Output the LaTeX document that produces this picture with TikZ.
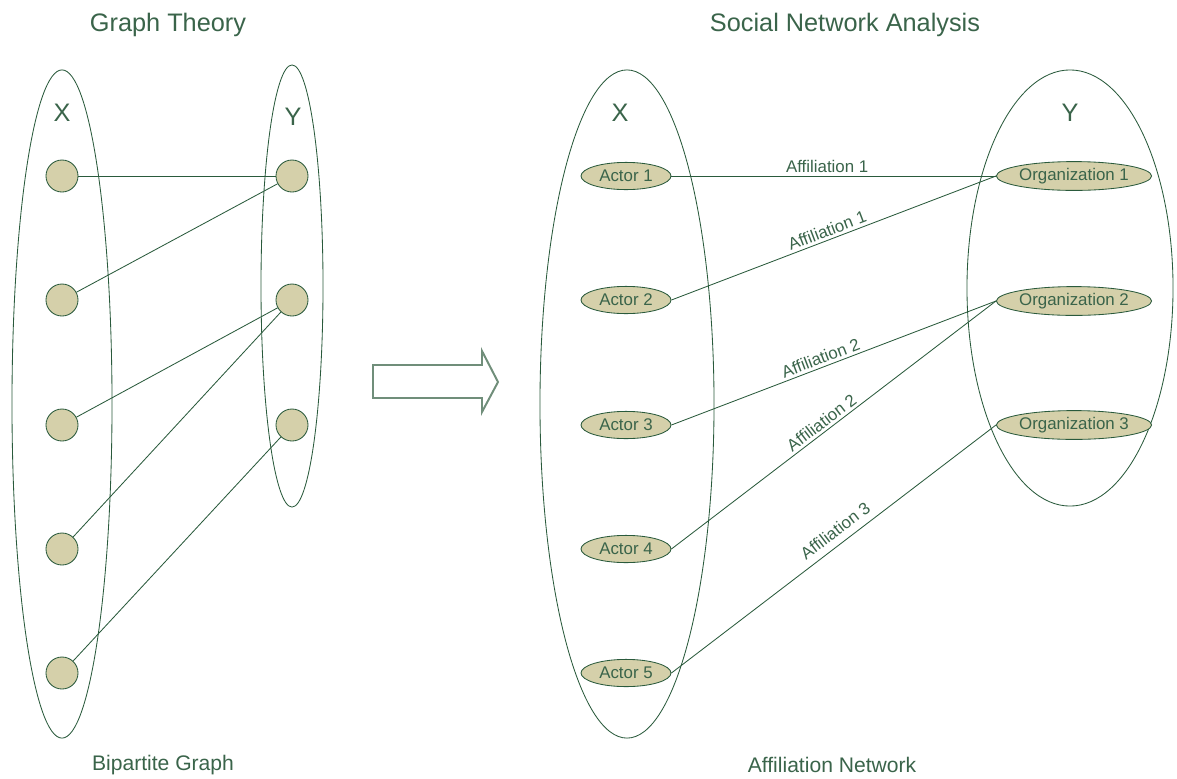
\documentclass[tikz,border=0pt]{standalone}
\usepackage{fontspec}
\setmainfont{Liberation Sans}
\usetikzlibrary{shapes.geometric, positioning}
\definecolor{linegreen}{RGB}{42,90,60}
\definecolor{textgreen}{RGB}{58,100,74}
\definecolor{nodefill}{RGB}{213,208,170}
\definecolor{arrowgreen}{RGB}{112,142,122}

\begin{document}
\begin{tikzpicture}[
    x=0.025cm, y=-0.025cm,
    part/.style={ellipse, draw=linegreen, line width=0.6pt, inner sep=0pt},
    vertex/.style={circle, draw=linegreen, fill=nodefill, minimum size=0.8cm, inner sep=0pt, line width=0.6pt},
    actor/.style={ellipse, draw=linegreen, fill=nodefill, minimum width=2.25cm, minimum height=0.68cm, inner sep=0pt, line width=0.6pt, font=\fontsize{12}{14}\selectfont, text=textgreen},
    org/.style={actor, minimum width=3.75cm, minimum height=0.72cm},
    edge/.style={draw=linegreen, line width=0.6pt},
    lbl/.style={font=\fontsize{12}{14}\selectfont, text=textgreen, inner sep=2pt},
    title/.style={font=\fontsize{18}{22}\selectfont, text=textgreen},
    caption/.style={font=\fontsize{15}{18}\selectfont, text=textgreen},
]
\useasboundingbox (0,0) rectangle (1177,778);

% Titles
\node[title] (gt) at (168,25) {Graph Theory};
\node[title] (sna) at (845,25) {Social Network Analysis};
\node[caption] (bg) at (163,765) {Bipartite Graph};
\node[caption] (an) at (832,765) {Affiliation Network};

% Bipartite graph
\node[part, minimum width=2.5cm, minimum height=16.7cm] (setx) at (62,404) {};
\node[part, minimum width=1.55cm, minimum height=11.05cm] (sety) at (292,286) {};
\node[title] (lx) at (62,113) {X};
\node[title] (ly) at (293,117) {Y};

\node[vertex] (x1) at (62,176) {};
\node[vertex] (x2) at (62,300) {};
\node[vertex] (x3) at (62,425) {};
\node[vertex] (x4) at (62,549) {};
\node[vertex] (x5) at (62,673) {};
\node[vertex] (y1) at (292,176) {};
\node[vertex] (y2) at (292,300) {};
\node[vertex] (y3) at (292,425) {};

\draw[edge] (x1) -- (y1);
\draw[edge] (x2) -- (y1);
\draw[edge] (x3) -- (y2);
\draw[edge] (x4) -- (y2);
\draw[edge] (x5) -- (y3);

% Block arrow
\draw[arrowgreen, line width=1.4pt, line join=miter]
    (373,365) -- (482,365) -- (482,351) -- (498,382) -- (482,412) -- (482,398) -- (373,398) -- cycle;

% Affiliation network
\node[part, minimum width=4.35cm, minimum height=16.7cm] (actors) at (627,404) {};
\node[part, minimum width=5.15cm, minimum height=10.9cm] (orgs) at (1070,288) {};
\node[title] (rx) at (620,113) {X};
\node[title] (ry) at (1070,113) {Y};

\node[actor] (a1) at (626,176) {Actor 1};
\node[actor] (a2) at (626,300) {Actor 2};
\node[actor] (a3) at (626,425) {Actor 3};
\node[actor] (a4) at (626,549) {Actor 4};
\node[actor] (a5) at (626,673) {Actor 5};
\node[org] (o1) at (1074,176) {Organization 1};
\node[org] (o2) at (1074,301) {Organization 2};
\node[org] (o3) at (1074,425) {Organization 3};

\draw[edge] (a1.east) -- node[lbl, above, pos=0.48] {Affiliation 1} (o1.west);
\draw[edge] (a2.east) -- node[lbl, sloped, above, pos=0.49] {Affiliation 1} (o1.west);
\draw[edge] (a3.east) -- node[lbl, sloped, above, pos=0.47] {Affiliation 2} (o2.west);
\draw[edge] (a4.east) -- node[lbl, sloped, above, pos=0.48] {Affiliation 2} (o2.west);
\draw[edge] (a5.east) -- node[lbl, sloped, above=3pt, pos=0.53] {Affiliation 3} (o3.west);

\end{tikzpicture}
\end{document}
